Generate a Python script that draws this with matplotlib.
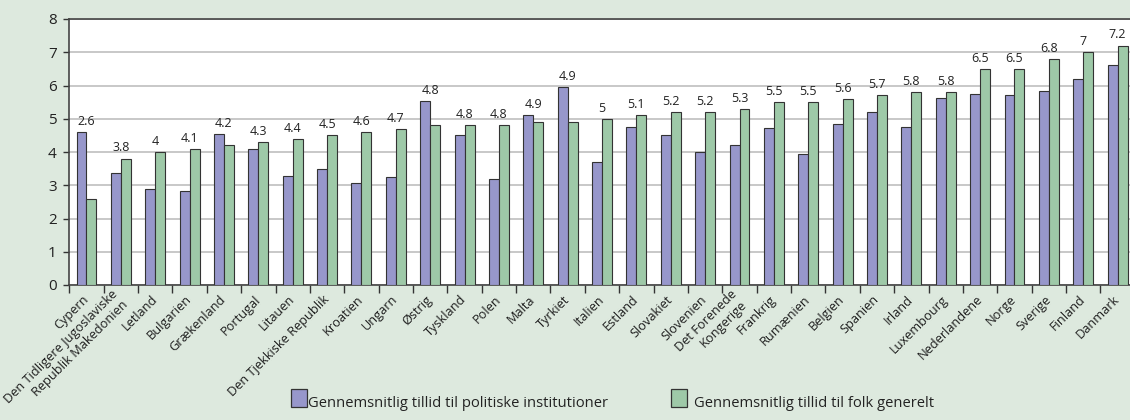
import matplotlib
matplotlib.use('Agg')
import matplotlib.pyplot as plt
from matplotlib.patches import Rectangle
import numpy as np

plt.rcParams['font.family'] = ['Open Sans', 'DejaVu Sans']

lande = ['Cypern', 'Den Tidligere Jugoslaviske\nRepublik Makedonien', 'Letland', 'Bulgarien',
         'Grækenland', 'Portugal', 'Litauen', 'Den Tjekkiske Republik', 'Kroatien', 'Ungarn',
         'Østrig', 'Tyskland', 'Polen', 'Malta', 'Tyrkiet', 'Italien', 'Estland', 'Slovakiet',
         'Slovenien', 'Det Forenede\nKongerige', 'Frankrig', 'Rumænien', 'Belgien', 'Spanien',
         'Irland', 'Luxembourg', 'Nederlandene', 'Norge', 'Sverige', 'Finland', 'Danmark']

# gennemsnitlig tillid til politiske institutioner (aflæst)
politisk = [4.61, 3.37, 2.89, 2.83, 4.53, 4.08, 3.27, 3.50, 3.08, 3.25,
            5.53, 4.51, 3.19, 5.10, 5.95, 3.70, 4.76, 4.51, 4.00, 4.22,
            4.72, 3.93, 4.83, 5.20, 4.76, 5.62, 5.73, 5.71, 5.82, 6.21, 6.61]

# gennemsnitlig tillid til folk generelt
folk = [2.6, 3.8, 4.0, 4.1, 4.2, 4.3, 4.4, 4.5, 4.6, 4.7,
        4.8, 4.8, 4.8, 4.9, 4.9, 5.0, 5.1, 5.2, 5.2, 5.3,
        5.5, 5.5, 5.6, 5.7, 5.8, 5.8, 6.5, 6.5, 6.8, 7.0, 7.2]

legend_tekst = ['Gennemsnitlig tillid til politiske institutioner',
                'Gennemsnitlig tillid til folk generelt']

lilla = '#9797cb'
groen = '#9ec9a8'
bg = '#dde9de'

fig = plt.figure(figsize=(11.3, 4.2), dpi=100, facecolor=bg)
ax = fig.add_axes([69.3 / 1130, 1 - 285 / 420, 31 * 34.37 / 1130, 266 / 420])
ax.set_facecolor('white')

x = np.arange(len(lande))
w = 0.29
ax.bar(x - w / 2, politisk, w, color=lilla, edgecolor='#333333', linewidth=0.8, zorder=3)
ax.bar(x + w / 2, folk, w, color=groen, edgecolor='#333333', linewidth=0.8, zorder=3)

for i in range(len(lande)):
    top = max(politisk[i], folk[i])
    ax.annotate(f'{folk[i]:g}', (x[i], top), xytext=(0, 3), textcoords='offset points',
                ha='center', va='bottom', fontsize=9, color='#222222')

ax.set_xlim(-0.5, len(lande) - 0.5)
ax.set_ylim(0, 8)
ax.set_yticks(range(9))
ax.yaxis.grid(True, color='#c4c4c4', linewidth=1.3, zorder=0)
ax.set_axisbelow(True)

ax.set_xticks(x)
ax.set_xticklabels(lande, rotation=45, ha='right', va='center', rotation_mode='anchor',
                   fontsize=9.2, multialignment='right', color='#1e1e1e',
                   linespacing=1.15)
ax.tick_params(axis='x', which='major', length=0, pad=9)
ax.set_xticks(np.append(x - 0.5, x[-1] + 0.5), minor=True)
ax.tick_params(axis='x', which='minor', length=6, width=1, color='#333333', direction='out')
ax.tick_params(axis='y', length=4, width=1, color='#333333', labelsize=11, pad=5,
               labelcolor='#222222')

for s in ['left', 'bottom', 'top']:
    ax.spines[s].set_color('#444444')
    ax.spines[s].set_linewidth(1.2)
ax.spines['right'].set_visible(False)

# forklaring nederst
for fx, tx, farve, tekst in [(291, 308, lilla, legend_tekst[0]), (671, 694, groen, legend_tekst[1])]:
    fig.patches.append(Rectangle((fx / 1130, 1 - 407 / 420), 15.5 / 1130, 18 / 420,
                                 facecolor=farve, edgecolor='#333333', linewidth=0.9,
                                 transform=fig.transFigure))
    fig.text(tx / 1130, 1 - 407 / 420, tekst, fontsize=10.6, va='baseline', ha='left',
             color='#222222')

fig.savefig('out.png', dpi=100, facecolor=bg)
